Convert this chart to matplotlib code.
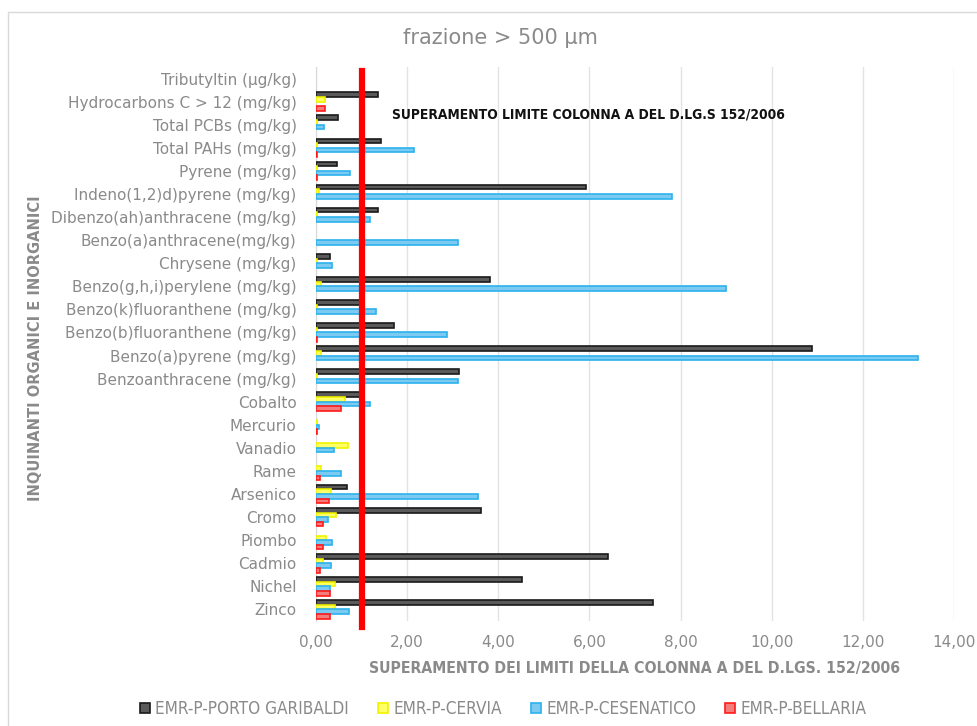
import matplotlib
matplotlib.use("Agg")
import matplotlib.pyplot as plt
import numpy as np
from matplotlib.patches import Rectangle

categories = [
    "Zinco", "Nichel", "Cadmio", "Piombo", "Cromo", "Arsenico", "Rame",
    "Vanadio", "Mercurio", "Cobalto",
    "Benzoanthracene (mg/kg)", "Benzo(a)pyrene (mg/kg)",
    "Benzo(b)fluoranthene (mg/kg)", "Benzo(k)fluoranthene (mg/kg)",
    "Benzo(g,h,i)perylene (mg/kg)", "Chrysene (mg/kg)",
    "Benzo(a)anthracene(mg/kg)", "Dibenzo(ah)anthracene (mg/kg)",
    "Indeno(1,2)d)pyrene (mg/kg)", "Pyrene (mg/kg)", "Total PAHs (mg/kg)",
    "Total PCBs (mg/kg)", "Hydrocarbons C > 12 (mg/kg)", "Tributyltin (µg/kg)",
]

porto_garibaldi = [7.40, 4.51, 6.40, 0.00, 3.63, 0.68, 0.00, 0.00, 0.00, 0.96,
                   3.14, 10.88, 1.72, 0.96, 3.82, 0.30, 0.00, 1.36, 5.93, 0.45,
                   1.43, 0.48, 1.35, 0.00]
cervia = [0.42, 0.42, 0.15, 0.23, 0.44, 0.34, 0.12, 0.71, 0.02, 0.64,
          0.02, 0.12, 0.02, 0.02, 0.11, 0.02, 0.00, 0.02, 0.07, 0.02,
          0.02, 0.02, 0.20, 0.00]
cesenatico = [0.72, 0.30, 0.33, 0.35, 0.27, 3.56, 0.55, 0.39, 0.07, 1.19,
              3.12, 13.20, 2.87, 1.32, 9.00, 0.35, 3.12, 1.18, 7.81, 0.74,
              2.16, 0.18, 0.00, 0.00]
bellaria = [0.30, 0.30, 0.08, 0.16, 0.16, 0.29, 0.08, 0.00, 0.02, 0.55,
            0.00, 0.00, 0.02, 0.00, 0.00, 0.00, 0.00, 0.00, 0.00, 0.02,
            0.02, 0.00, 0.20, 0.00]

series_names = ["EMR-P-PORTO GARIBALDI", "EMR-P-CERVIA", "EMR-P-CESENATICO", "EMR-P-BELLARIA"]
limit_value = 1.0
xticks = [0, 2, 4, 6, 8, 10, 12, 14]

fills = ["#5a5a5a", "#ffff66", "#7ccaf2", "#f47c7c"]
edges = ["#1a1a1a", "#f2f200", "#2bb2ec", "#ff1a1a"]
offsets = [0.3, 0.1, -0.1, -0.3]
series = [porto_garibaldi, cervia, cesenatico, bellaria]

gray = "#8a8a8a"
fig = plt.figure(figsize=(9.77, 7.26), dpi=100)
fig.patches.append(Rectangle((8 / 977, -0.2), 1.2, 1 - 12 / 726 + 0.2,
                             transform=fig.transFigure, fill=False,
                             edgecolor="#d9d9d9", linewidth=1.0))

ax = fig.add_axes([316 / 977, 1 - 621 / 726, (954 - 316) / 977, (621 - 67) / 726])
y = np.arange(len(categories))
for vals, off, fc, ec, name in zip(series, offsets, fills, edges, series_names):
    v = np.array(vals, dtype=float)
    lw = np.where(v > 0, 1.2, 0.0)
    ax.barh(y + off, v, height=0.2, color=fc, edgecolor=ec, linewidth=lw,
            label=name, zorder=3)

ax.axvline(limit_value, ymin=-0.01, ymax=0.993, color="#ff0000", linewidth=4.5,
           zorder=5, clip_on=False)

ax.set_xlim(0, 14)
ax.set_ylim(-0.5, len(categories) - 0.5)
ax.set_yticks(y)
ax.set_yticklabels(categories, fontsize=11, color=gray)
ax.set_xticks(xticks)
ax.set_xticklabels([f"{v:.2f}".replace(".", ",") for v in xticks], fontsize=11, color=gray)
ax.tick_params(axis="both", length=0)
ax.tick_params(axis="y", pad=14)
ax.tick_params(axis="x", pad=10)
ax.grid(axis="x", color="#e3e3e3", linewidth=1, zorder=0)
for s in ["top", "right", "bottom"]:
    ax.spines[s].set_visible(False)
ax.spines["left"].set_color("#d9d9d9")

cond = dict(family="DejaVu Sans", stretch="condensed")
ax.set_xlabel("SUPERAMENTO DEI LIMITI DELLA COLONNA A DEL D.LGS. 152/2006",
              fontsize=11.3, fontweight="bold", color=gray, labelpad=8, **cond)
fig.text(36 / 977, 1 - 348 / 726, "INQUINANTI ORGANICI E INORGANICI", rotation=90,
         fontsize=11.7, fontweight="bold", color=gray, ha="center", va="center", **cond)
fig.text(500 / 977, 1 - 38 / 726, "frazione > 500 µm", fontsize=15, color=gray,
         ha="center", va="center")
fig.text(392 / 977, 1 - 114 / 726, "SUPERAMENTO LIMITE COLONNA A DEL D.LG.S 152/2006",
         fontsize=9.9, fontweight="bold", color="#111111",
         ha="left", va="center", **cond)

leg = fig.legend(loc="center", bbox_to_anchor=(503 / 977, 1 - 709 / 726), ncol=4,
                 frameon=False, handlelength=0.6, handleheight=0.6,
                 handletextpad=0.3, columnspacing=1.7,
                 prop=dict(family="DejaVu Sans", stretch="condensed", size=12.3))
for t in leg.get_texts():
    t.set_color(gray)

fig.savefig("out.png", dpi=100)
